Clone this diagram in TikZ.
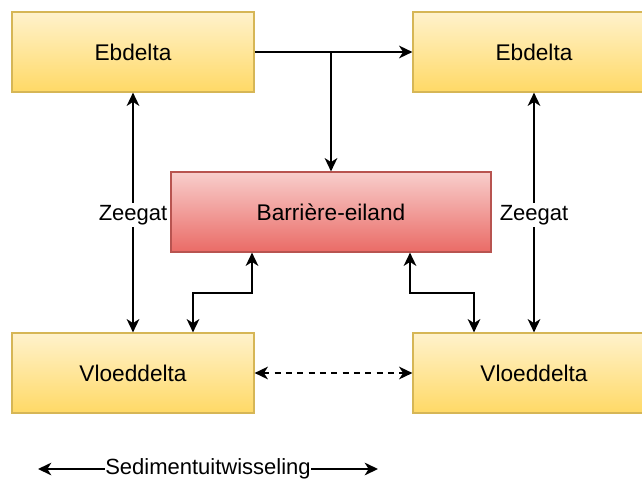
\documentclass[tikz,border=0pt]{standalone}
\usepackage{fontspec}
\setmainfont{Liberation Sans}
\usepackage{tikz}
\usetikzlibrary{arrows.meta,positioning}
\definecolor{geeltop}{HTML}{FFF2CC}
\definecolor{geelbot}{HTML}{FFD966}
\definecolor{geelrand}{HTML}{D6B656}
\definecolor{roodtop}{HTML}{F8CECC}
\definecolor{roodbot}{HTML}{EA6B66}
\definecolor{roodrand}{HTML}{B85450}
\tikzset
    {
        delta/.style = {rectangle, draw=geelrand, line width=0.9pt, top color=geeltop, bottom color=geelbot, minimum width=181.5pt, minimum height=60pt, font=\fontsize{17}{20}\selectfont},
        eiland/.style = {rectangle, draw=roodrand, line width=0.9pt, top color=roodtop, bottom color=roodbot, minimum width=240pt, minimum height=60pt, font=\fontsize{17}{20}\selectfont},
        lbl/.style = {fill=white, inner sep=1.5pt, font=\fontsize{16.5}{19}\selectfont}
    }
\begin{document}
\begin{tikzpicture}[->,>={Stealth[length=10pt, width=9.5pt, inset=3pt]}, x=0.75pt, y=-0.75pt, line width=1.4pt]
                        \useasboundingbox (0,0) rectangle (642,486);
                        \clip (0,0) rectangle (642,486);
                        % bovenste rij
                        \node [delta] (eb1) at (133,52) {Ebdelta};
                        \node [delta] (eb2) at (534,52) {Ebdelta};
                        % midden
                        \node [eiland] (bar) at (331,212) {Barrière-eiland};
                        % onderste rij
                        \node [delta] (vl1) at (133,373) {Vloeddelta};
                        \node [delta] (vl2) at (534,373) {Vloeddelta};
                        % verbindingen
                        \draw (eb1.east) -- (eb2.west);
                        \draw (bar.north |- eb1.east) -- (bar.north);
                        \draw [<->] (eb1.south) -- node [lbl, pos=0.51] {Zeegat} (vl1.north);
                        \draw [<->] (eb2.south) -- node [lbl, pos=0.51] {Zeegat} (vl2.north);
                        \draw [<->] ([xshift=-59.25pt]bar.south) -- ++(0,40.5) -| ([xshift=45pt]vl1.north);
                        \draw [<->] ([xshift=59.25pt]bar.south) -- ++(0,40.5) -| ([xshift=-45pt]vl2.north);
                        \draw [<->, dash pattern=on 4.5pt off 4pt] (vl1.east) -- (vl2.west);
                        % legenda
                        \coordinate (lega) at (38,469);
                        \coordinate (legb) at (378,469);
                        \draw [<->] (lega) -- node [lbl, inner sep=0pt] {Sedimentuitwisseling} (legb);
                    \end{tikzpicture}
\end{document}
